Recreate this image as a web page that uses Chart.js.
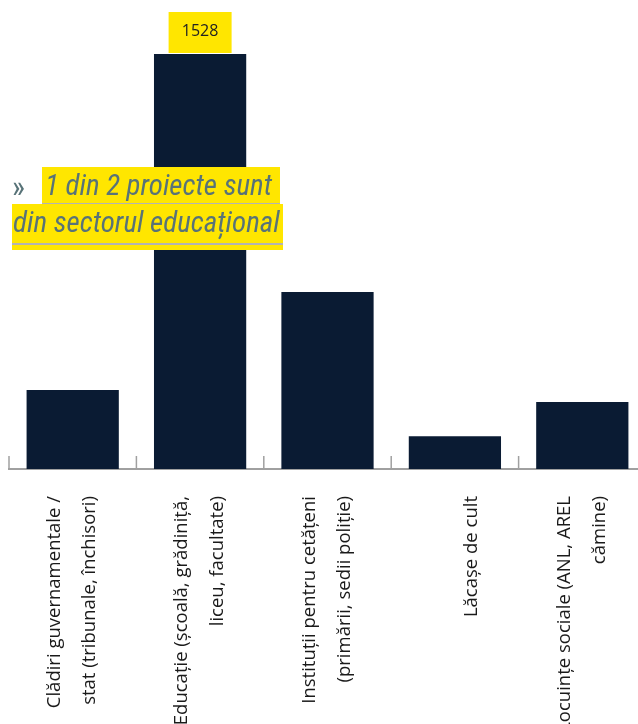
<!DOCTYPE html>
<html lang="ro">
<head>
  <meta charset="UTF-8">
  <title>Proiecte pe sectoare</title>
  <script src="https://cdn.jsdelivr.net/npm/chart.js"></script>
  <style>
    html, body { margin: 0; padding: 0; background: #fff; overflow: hidden; }
    #wrap { position: absolute; left: 0; top: 0; width: 646px; height: 724px; }
    .callout {
      position: absolute;
      font-family: "Liberation Sans Narrow", "Roboto Condensed", "DejaVu Sans Condensed", sans-serif;
      font-stretch: condensed;
      font-style: italic;
      font-size: 29px;
      color: #587378;
      white-space: nowrap;
    }
    .hl { background: #ffe600; line-height: 36px; }
    .hl .u { position: absolute; left: 0; right: 0; height: 2px; background: #b3b3b3; }
    #arrow { left: 12px; top: 169px; line-height: 36px; font-style: normal; font-size: 31px; }
    #line1 { left: 42px; top: 167px; height: 38px; padding: 0 8px 0 3px; }
    #line1 .u { top: 36px; }
    #line2 { left: 12px; top: 204px; height: 46px; padding: 0 3px 0 1px; }
    #line2 .u { top: 39px; }
  </style>
</head>
<body>
  <div id="wrap"><canvas id="sectoare"></canvas></div>

  <!-- caseta cu mesajul principal -->
  <div class="callout" id="arrow">»</div>
  <div class="callout hl" id="line1">1 din 2 proiecte sunt<div class="u"></div></div>
  <div class="callout hl" id="line2">din sectorul educațional<div class="u"></div></div>

  <script>
    const categorii = [
      ['Clădiri guvernamentale /', 'stat (tribunale, închisori)'],
      ['Educație (școală, grădiniță,', 'liceu, facultate)'],
      ['Instituții pentru cetățeni', '(primării, sedii poliție)'],
      ['', 'Lăcașe de cult'],
      ['Locuințe sociale (ANL, AREL', 'cămine)']
    ];
    const proiecte = [291, 1528, 652, 121, 247];

    const culoareBara = '#0a1b33';
    const culoareAx = '#a0a0a0';

    // indexul barei cu eticheta galbena (cea mai mare valoare)
    const idxMax = proiecte.indexOf(Math.max(...proiecte));

    // liniutele verticale dintre categorii, desenate in sus de la axa
    const liniute = {
      id: 'liniute',
      afterDraw(chart) {
        const x = chart.scales.x;
        const c = chart.ctx;
        c.save();
        c.strokeStyle = culoareAx;
        c.lineWidth = 1.5;
        for (let i = 0; i <= categorii.length; i++) {
          const px = x.getPixelForValue(i - 0.5);
          c.beginPath();
          c.moveTo(px, x.top);
          c.lineTo(px, x.top - 13);
          c.stroke();
        }
        c.restore();
      }
    };

    // eticheta galbena cu valoarea deasupra barei
    const etichetaMax = {
      id: 'etichetaMax',
      afterDatasetsDraw(chart) {
        const bar = chart.getDatasetMeta(0).data[idxMax];
        const c = chart.ctx;
        c.save();
        c.fillStyle = '#ffe600';
        c.fillRect(bar.x - 31.5, bar.y - 42, 63, 41);
        c.fillStyle = '#222';
        c.font = '16px "Open Sans", sans-serif';
        c.textAlign = 'center';
        c.textBaseline = 'middle';
        c.fillText(String(proiecte[idxMax]), bar.x, bar.y - 23);
        c.restore();
      }
    };

    const ctx = document.getElementById('sectoare').getContext('2d');
    new Chart(ctx, {
      type: 'bar',
      data: {
        labels: categorii,
        datasets: [{
          data: proiecte,
          backgroundColor: culoareBara,
          barPercentage: 0.724,
          categoryPercentage: 1
        }]
      },
      options: {
        responsive: true,
        maintainAspectRatio: false,
        animation: false,
        layout: { padding: { left: 9, right: 0, top: 54, bottom: 0 } },
        plugins: { legend: { display: false }, tooltip: { enabled: false } },
        scales: {
          y: { display: false, min: 0, max: 1528 },
          x: {
            grid: { display: false, drawTicks: false },
            border: { display: true, color: culoareAx, width: 2 },
            ticks: {
              autoSkip: false,
              minRotation: 90,
              maxRotation: 90,
              padding: 27,
              labelOffset: -18,
              color: '#1a1a1a',
              font: { family: '"Open Sans", sans-serif', size: 18.5, lineHeight: 1.9 }
            },
            afterFit(scale) {
              scale.height = 255;
              scale.paddingLeft = 0;
              scale.paddingRight = 0;
            }
          }
        }
      },
      plugins: [liniute, etichetaMax]
    });
  </script>
</body>
</html>
